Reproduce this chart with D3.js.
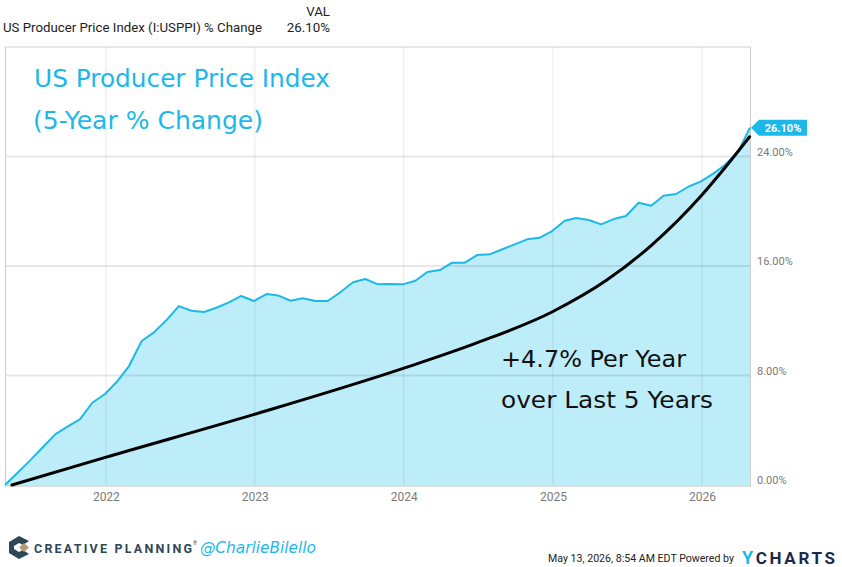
<!DOCTYPE html>
<html>
<head>
<meta charset="utf-8">
<script src="https://cdn.jsdelivr.net/npm/d3@7"></script>
<style>
  body { margin: 0; background: #fff; }
  svg { display: block; font-family: Roboto, "Liberation Sans", sans-serif; }
</style>
</head>
<body>
<div id="chart"></div>
<script>
// month-end dates, Apr 2021 .. Apr 2026
var months = d3.timeMonth.range(new Date(2021, 3, 1), new Date(2026, 4, 1))
    .map(function(d) { return d3.timeDay.offset(d3.timeMonth.offset(d, 1), -1); });

// PPI 5-year % change
var ppiValues = [
    0, 0.9, 1.78, 2.74, 3.70, 4.26, 4.82, 6.01, 6.65,
    7.60, 8.69, 10.52, 11.15, 12.05, 13.07, 12.73, 12.64, 12.95, 13.34, 13.81, 13.44,
    13.95, 13.85, 13.46, 13.64, 13.44, 13.44, 14.08, 14.81, 15.05, 14.66, 14.68, 14.66,
    14.92, 15.56, 15.70, 16.24, 16.24, 16.80, 16.85, 17.22, 17.58, 17.95, 18.06, 18.55,
    19.31, 19.50, 19.36, 19.04, 19.43, 19.65, 20.62, 20.40, 21.13, 21.26, 21.79, 22.18,
    22.77, 23.40, 24.30, 26.10
];

// hand drawn trend curve (annotation)
var trendDates = ["2021-05-17", "2022-01-01", "2023-01-01", "2024-01-01", "2024-07-01",
    "2025-01-01", "2025-05-14", "2025-09-01", "2026-01-01", "2026-02-23", "2026-04-29"];
var trendValues = [0, 2.02, 5.16, 8.52, 10.4, 12.66, 14.97, 17.53, 21.15, 23.01, 25.44];

var yTicks = [0, 8, 16, 24];
var xTicks = [2022, 2023, 2024, 2025, 2026];

var svgWidth = 842, svgHeight = 567;
var blue = "#1cb8ea";
var handFont = "'Comic Sans MS', 'Segoe Print', 'DejaVu Sans', sans-serif";

var svg = d3.select("#chart").append("svg")
    .attr("width", svgWidth)
    .attr("height", svgHeight);

var x = d3.scaleTime()
    .domain([months[0], months[months.length - 1]])
    .range([5, 750]);

var y = d3.scaleLinear()
    .domain([0, 32])
    .range([485, 47]);

var ppi = months.map(function(d, i) { return { date: d, value: ppiValues[i] }; });
var trend = trendDates.map(function(d, i) { return { date: d3.timeParse("%Y-%m-%d")(d), value: trendValues[i] }; });

// header
svg.append("text").attr("x", 3).attr("y", 32)
    .attr("font-size", 13.3).attr("fill", "#222")
    .attr("textLength", 259).attr("lengthAdjust", "spacingAndGlyphs")
    .text("US Producer Price Index (I:USPPI) % Change");
svg.append("text").attr("x", 330).attr("y", 16).attr("text-anchor", "end")
    .attr("font-size", 13.3).attr("fill", "#222").text("VAL");
svg.append("text").attr("x", 330).attr("y", 32).attr("text-anchor", "end")
    .attr("font-size", 13.3).attr("fill", "#222").text("26.10%");

// area + line
svg.append("path").datum(ppi)
    .attr("fill", "#bdedf9")
    .attr("d", d3.area().x(d => x(d.date)).y0(y(0)).y1(d => y(d.value)));

// gridlines over the fill
var grid = svg.append("g").attr("stroke", "#000").attr("stroke-opacity", 0.09);
grid.selectAll("line.h").data(yTicks.slice(1).concat([32])).enter().append("line")
    .attr("x1", 5).attr("x2", 750.5)
    .attr("y1", d => y(d)).attr("y2", d => y(d))
    .attr("stroke-width", 2);
grid.selectAll("line.v").data(xTicks).enter().append("line")
    .attr("x1", d => x(new Date(d, 0, 1)) + 0.5).attr("x2", d => x(new Date(d, 0, 1)) + 0.5)
    .attr("y1", 47).attr("y2", 485)
    .attr("stroke-width", 1);

// frame
svg.append("line").attr("x1", 5.5).attr("x2", 5.5).attr("y1", 47).attr("y2", 485)
    .attr("stroke", "#ccc");
svg.append("line").attr("x1", 750.5).attr("x2", 750.5).attr("y1", 47).attr("y2", 485)
    .attr("stroke", "#ccc");
svg.append("line").attr("x1", 5).attr("x2", 751).attr("y1", 486).attr("y2", 486)
    .attr("stroke", "#ddd").attr("stroke-width", 2);

svg.append("path").datum(ppi)
    .attr("fill", "none")
    .attr("stroke", blue)
    .attr("stroke-width", 2)
    .attr("stroke-linejoin", "round")
    .attr("d", d3.line().x(d => x(d.date)).y(d => y(d.value)));

// trend curve
svg.append("path").datum(trend)
    .attr("fill", "none")
    .attr("stroke", "#000")
    .attr("stroke-width", 3)
    .attr("stroke-linecap", "round")
    .attr("d", d3.line().curve(d3.curveMonotoneX).x(d => x(d.date)).y(d => y(d.value)));

// axes labels
var yAxis = d3.axisRight(y).tickValues(yTicks)
    .tickFormat(d => d3.format(".2f")(d) + "%").tickSize(0).tickPadding(0);
svg.append("g")
    .attr("transform", "translate(757, -5)")
    .call(yAxis)
    .call(g => g.select(".domain").remove())
    .call(g => g.selectAll("text").attr("fill", "#7a7a7a").attr("font-size", 11)
        .attr("font-family", "Roboto, sans-serif"));

var xAxis = d3.axisBottom(x).tickValues(xTicks.map(d => new Date(d, 0, 1)))
    .tickFormat(d3.timeFormat("%Y")).tickSize(0).tickPadding(0);
svg.append("g")
    .attr("transform", "translate(0.5, 492)")
    .call(xAxis)
    .call(g => g.select(".domain").remove())
    .call(g => g.selectAll("text").attr("fill", "#7a7a7a").attr("font-size", 12)
        .attr("font-family", "Roboto, sans-serif"));

// end value flag
var last = ppi[ppi.length - 1];
var fx = x(last.date) + 1, fy = y(last.value);
svg.append("path")
    .attr("d", `M${fx},${fy} L${fx + 8},${fy - 8} L${fx + 56},${fy - 8} L${fx + 56},${fy + 8} L${fx + 8},${fy + 8} Z`)
    .attr("fill", blue);
svg.append("text").attr("x", fx + 32).attr("y", fy + 4).attr("text-anchor", "middle")
    .attr("fill", "#fff").attr("font-size", 11).attr("font-weight", "bold")
    .text(d3.format(".2f")(last.value) + "%");

// title
svg.append("text").attr("x", 34).attr("y", 87)
    .attr("font-family", handFont).attr("font-size", 24).attr("fill", blue)
    .attr("textLength", 296).attr("lengthAdjust", "spacingAndGlyphs")
    .text("US Producer Price Index");
svg.append("text").attr("x", 33).attr("y", 129)
    .attr("font-family", handFont).attr("font-size", 24).attr("fill", blue)
    .attr("textLength", 230).attr("lengthAdjust", "spacingAndGlyphs")
    .text("(5-Year % Change)");

// annotation
svg.append("text").attr("x", 501).attr("y", 367)
    .attr("font-family", handFont).attr("font-size", 23).attr("fill", "#111")
    .attr("textLength", 185).attr("lengthAdjust", "spacingAndGlyphs")
    .text("+4.7% Per Year");
svg.append("text").attr("x", 501).attr("y", 408)
    .attr("font-family", handFont).attr("font-size", 23).attr("fill", "#111")
    .attr("textLength", 212).attr("lengthAdjust", "spacingAndGlyphs")
    .text("over Last 5 Years");

// footer left: logo
var logo = svg.append("g").attr("transform", "translate(9, 536)");
logo.append("path")
    .attr("d", "M10,0 L20,5 L14,9 L10,7 L5,10 L5,13 L10,16 L14,14 L20,18 L10,23 L0,17 L0,6 Z")
    .attr("fill", "#2e4756");
logo.append("path").attr("d", "M15,7 L20,11.5 L15,16 L10,11.5 Z").attr("fill", "#b59c74");
svg.append("text").attr("x", 34).attr("y", 553)
    .attr("font-size", 12.5).attr("font-weight", "bold").attr("fill", "#2e4756")
    .attr("textLength", 158).attr("lengthAdjust", "spacing")
    .text("CREATIVE PLANNING");
svg.append("text").attr("x", 193).attr("y", 545)
    .attr("font-size", 5).attr("fill", "#2e4756").text("®");
svg.append("text").attr("x", 200).attr("y", 553)
    .attr("font-family", handFont).attr("font-size", 16).attr("font-style", "italic").attr("fill", blue)
    .attr("textLength", 116).attr("lengthAdjust", "spacingAndGlyphs")
    .text("@CharlieBilello");

// footer right
svg.append("text").attr("x", 734).attr("y", 562).attr("text-anchor", "end")
    .attr("font-size", 10.6).attr("fill", "#222")
    .attr("font-family", "Roboto, sans-serif")
    .text("May 13, 2026, 8:54 AM EDT Powered by");
var yc = svg.append("text").attr("x", 742).attr("y", 564)
    .attr("font-weight", "bold").attr("fill", "#1b2a4a")
    .attr("textLength", 93).attr("lengthAdjust", "spacing");
yc.append("tspan").attr("font-size", 18).attr("fill", blue).text("Y");
yc.append("tspan").attr("font-size", 17).text("CHARTS");
</script>
</body>
</html>
